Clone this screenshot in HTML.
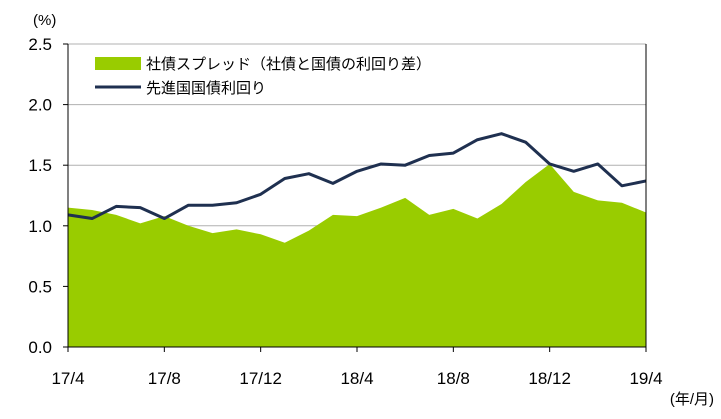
<!DOCTYPE html>
<html><head><meta charset="utf-8"><style>
body{margin:0;background:#fff;font-family:"Liberation Sans","Noto Sans CJK JP",sans-serif;}
svg text{font-family:"Liberation Sans","Noto Sans CJK JP",sans-serif;fill:#000;}
</style></head><body>
<svg id="c" width="721" height="414"></svg>
<script>
const categories=["17/4","17/5","17/6","17/7","17/8","17/9","17/10","17/11","17/12","18/1","18/2","18/3","18/4","18/5","18/6","18/7","18/8","18/9","18/10","18/11","18/12","19/1","19/2","19/3","19/4"];
const spreadValues=[1.15,1.13,1.09,1.02,1.08,1.00,0.94,0.97,0.93,0.86,0.96,1.09,1.08,1.15,1.23,1.09,1.14,1.06,1.18,1.36,1.51,1.28,1.21,1.19,1.11];
const yieldValues=[1.09,1.06,1.16,1.15,1.06,1.17,1.17,1.19,1.26,1.39,1.43,1.35,1.45,1.51,1.50,1.58,1.60,1.71,1.76,1.69,1.51,1.45,1.51,1.33,1.37];
const yTicks=[0,0.5,1.0,1.5,2.0,2.5];
const xTickLabels=["17/4","17/8","17/12","18/4","18/8","18/12","19/4"];
const NS="http://www.w3.org/2000/svg",svg=document.getElementById('c');
const X0=68,X1=646,Y0=347,Y1=44;
const x=i=>X0+(X1-X0)*i/(categories.length-1);
const y=v=>Y0-(Y0-Y1)*v/2.5;
function mk(t,a){const e=document.createElementNS(NS,t);for(const k in a)e.setAttribute(k,a[k]);svg.appendChild(e);return e;}
yTicks.forEach(v=>{
 if(v>0){const g=mk('line',{x1:X0,x2:X1,y1:y(v),y2:y(v),stroke:'#b0b0b0','stroke-width':1});
 
 }
 const t=mk('text',{x:52,y:y(v)+6,'text-anchor':'end','font-size':17});t.textContent=v.toFixed(1);
 
 
});
let pts=spreadValues.map((v,i)=>x(i)+','+y(v)).join(' ');
const area=mk('polygon',{points:X0+','+Y0+' '+pts+' '+X1+','+Y0,fill:'#99cc00'});


const ln=mk('polyline',{points:yieldValues.map((v,i)=>x(i)+','+y(v)).join(' '),fill:'none',stroke:'#1f3050','stroke-width':3,'stroke-linejoin':'round'});


const ax=mk('path',{d:`M${X0},${Y1}V${Y0}H${X1}V${Y1}`,fill:'none',stroke:'#000','stroke-width':1});


yTicks.forEach(v=>{const t=mk('line',{x1:X0-5,x2:X0,y1:y(v),y2:y(v),stroke:'#000'});});
xTickLabels.forEach(l=>{const i=categories.indexOf(l);
 const tk=mk('line',{x1:x(i),x2:x(i),y1:Y0,y2:Y0+5,stroke:'#000'});
 
 
 const t=mk('text',{x:x(i),y:384,'text-anchor':'middle','font-size':17});t.textContent=l;
 
 });
const u=mk('text',{x:33,y:25,'font-size':15});u.textContent='(%)';


const u2=mk('text',{x:714,y:404,'text-anchor':'end','font-size':15});u2.textContent='(年/月)';


const s1=mk('rect',{x:95,y:57,width:46,height:13,fill:'#99cc00'});


const l1=mk('text',{x:146,y:69,'font-size':15});l1.textContent='社債スプレッド（社債と国債の利回り差）';


const s2=mk('line',{x1:95,x2:141,y1:87,y2:87,stroke:'#1f3050','stroke-width':3});


const l2=mk('text',{x:146,y:93,'font-size':15});l2.textContent='先進国国債利回り';


</script></body></html>
